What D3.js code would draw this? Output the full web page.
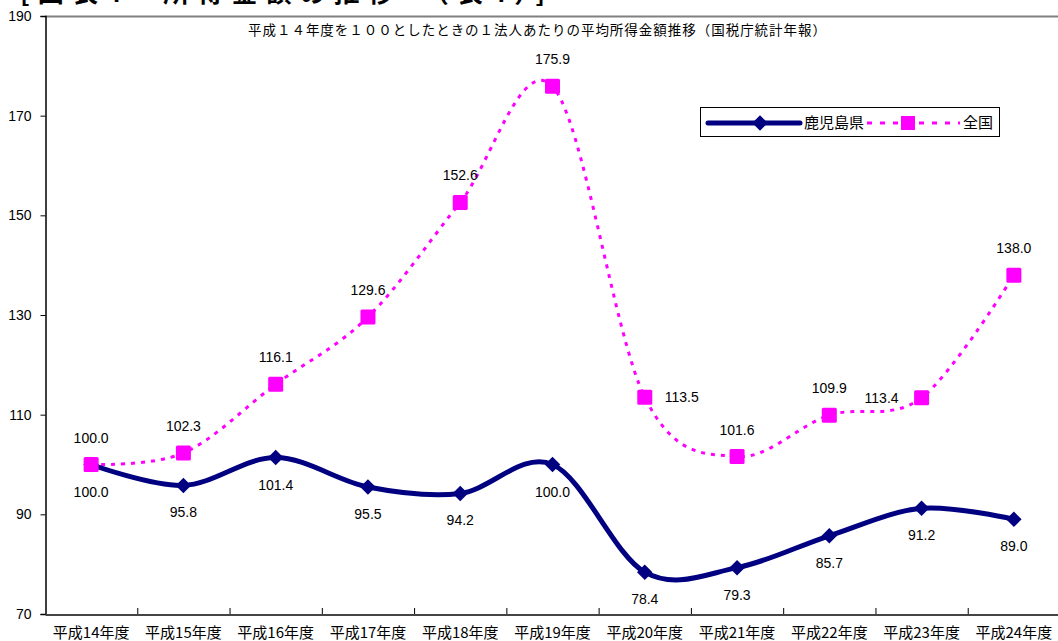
<!DOCTYPE html>
<html>
<head>
<meta charset="utf-8">
<script src="https://cdn.jsdelivr.net/npm/d3@7"></script>
<style>
  body { margin: 0; background: #fff; overflow: hidden; }
  svg { display: block; }
  text { font-family: "Noto Sans CJK JP", "Liberation Sans", sans-serif; }
</style>
</head>
<body>
<div id="chart"></div>
<script>
// 平成14年度=100 とした1法人あたり平均所得金額
const categories = ['平成14年度', '平成15年度', '平成16年度', '平成17年度', '平成18年度', '平成19年度',
    '平成20年度', '平成21年度', '平成22年度', '平成23年度', '平成24年度'];
const kagoshima = [100.0, 95.8, 101.4, 95.5, 94.2, 100.0, 78.4, 79.3, 85.7, 91.2, 89.0];
const zenkoku = [100.0, 102.3, 116.1, 129.6, 152.6, 175.9, 113.5, 101.6, 109.9, 113.4, 138.0];
const yTicks = [70, 90, 110, 130, 150, 170, 190];
const seriesNames = ['鹿児島県', '全国'];

const NAVY = '#000080';
const PINK = '#ff00ff';
const width = 1058, height = 641;

const svg = d3.select('#chart').append('svg')
    .attr('width', width).attr('height', height);

const x = d3.scaleBand().domain(categories).range([45, 1060]);
const y = d3.scaleLinear().domain([70, 190]).range([614, 16]);
const cx = d => x(d) + x.bandwidth() / 2;

// heading, mostly cut off by the top edge as in the source image
svg.append('text')
    .attr('x', 20).attr('y', 2)
    .attr('font-size', '26px').attr('font-weight', 700)
    .attr('fill', '#000')
    .attr('textLength', 525).attr('lengthAdjust', 'spacing')
    .text('[図表4　所得金額の推移　（表4）]');

// frame: gray top, black left/bottom
svg.append('line').attr('x1', 45).attr('x2', width).attr('y1', 16.5).attr('y2', 16.5)
    .attr('stroke', '#808080').attr('stroke-width', 2);

// y axis
const yAxis = svg.append('g').attr('transform', 'translate(45.5,0)')
    .call(d3.axisLeft(y).tickValues(yTicks).tickSize(5).tickPadding(9).tickFormat(d3.format('d')));
yAxis.select('.domain').attr('stroke', '#000').attr('stroke-width', 1.5);
yAxis.selectAll('text').attr('font-size', '14px').attr('fill', '#000')
    .style('font-family', '"Liberation Sans", Arial, sans-serif');

// x axis
const xAxis = svg.append('g').attr('transform', 'translate(0,614.5)')
    .call(d3.axisBottom(x).tickSize(0).tickPadding(13));
xAxis.select('.domain').attr('stroke', '#444').attr('stroke-width', 2);
xAxis.selectAll('text').attr('font-size', '15px').attr('fill', '#000');
svg.append('g').selectAll('line')
    .data(categories.slice(1))
    .join('line')
    .attr('x1', d => x(d) + 0.5).attr('x2', d => x(d) + 0.5)
    .attr('y1', 608).attr('y2', 614)
    .attr('stroke', '#000').attr('stroke-width', 1);

// subtitle
svg.append('text')
    .attr('x', 248).attr('y', 35)
    .attr('font-size', '13.5px').attr('fill', '#000')
    .attr('textLength', 578).attr('lengthAdjust', 'spacing')
    .text('平成１４年度を１００としたときの１法人あたりの平均所得金額推移（国税庁統計年報）');

const line = d3.line()
    .x((d, i) => cx(categories[i]))
    .y(d => y(d))
    .curve(d3.curveCardinal.tension(0));

// 全国 (dashed pink)
svg.append('path')
    .attr('d', line(zenkoku))
    .attr('fill', 'none')
    .attr('stroke', PINK).attr('stroke-width', 3)
    .attr('stroke-dasharray', '4,6');

// 鹿児島県 (thick navy)
svg.append('path')
    .attr('d', line(kagoshima))
    .attr('fill', 'none')
    .attr('stroke', NAVY).attr('stroke-width', 5);

const diamond = d3.symbol().type(d3.symbolSquare).size(120);

svg.append('g').selectAll('path')
    .data(kagoshima)
    .join('path')
    .attr('d', diamond)
    .attr('transform', (d, i) => `translate(${cx(categories[i])},${y(d)}) rotate(45)`)
    .attr('fill', NAVY);

svg.append('g').selectAll('rect')
    .data(zenkoku)
    .join('rect')
    .attr('x', (d, i) => cx(categories[i]) - 7.5)
    .attr('y', d => y(d) - 7.5)
    .attr('width', 15).attr('height', 15)
    .attr('rx', 1.5)
    .attr('fill', PINK);

// value labels
const numFont = '"Liberation Sans", Arial, sans-serif';
svg.append('g').selectAll('text')
    .data(kagoshima)
    .join('text')
    .attr('x', (d, i) => cx(categories[i]))
    .attr('y', d => y(d) + 32)
    .attr('text-anchor', 'middle')
    .attr('font-size', '14px').attr('fill', '#000')
    .style('font-family', numFont)
    .text(d => d.toFixed(1));

svg.append('g').selectAll('text')
    .data(zenkoku)
    .join('text')
    .attr('x', (d, i) => {
        if (i === 6) return cx(categories[i]) + 37;
        if (i === 9) return cx(categories[i]) - 40;
        return cx(categories[i]);
    })
    .attr('y', (d, i) => (i === 6 || i === 9) ? y(d) + 5 : y(d) - 22)
    .attr('text-anchor', 'middle')
    .attr('font-size', '14px').attr('fill', '#000')
    .style('font-family', numFont)
    .text(d => d.toFixed(1));

// legend
const lg = svg.append('g').attr('transform', 'translate(700,107)');
lg.append('rect').attr('x', 0.5).attr('y', 0.5).attr('width', 299).attr('height', 29)
    .attr('fill', '#fff').attr('stroke', '#000').attr('stroke-width', 1);
lg.append('line').attr('x1', 8).attr('x2', 100).attr('y1', 16).attr('y2', 16)
    .attr('stroke', NAVY).attr('stroke-width', 5).attr('stroke-linecap', 'round');
lg.append('path').attr('d', diamond)
    .attr('transform', 'translate(60,16) rotate(45)').attr('fill', NAVY);
lg.append('text').attr('x', 104).attr('y', 21)
    .attr('font-size', '15px').attr('fill', '#000').text(seriesNames[0]);
lg.append('line').attr('x1', 167).attr('x2', 260).attr('y1', 16).attr('y2', 16)
    .attr('stroke', PINK).attr('stroke-width', 3).attr('stroke-dasharray', '5,8');
lg.append('rect').attr('x', 208 - 7).attr('y', 9).attr('width', 14).attr('height', 14)
    .attr('fill', PINK);
lg.append('text').attr('x', 263).attr('y', 21)
    .attr('font-size', '15px').attr('fill', '#000').text(seriesNames[1]);
</script>
</body>
</html>
